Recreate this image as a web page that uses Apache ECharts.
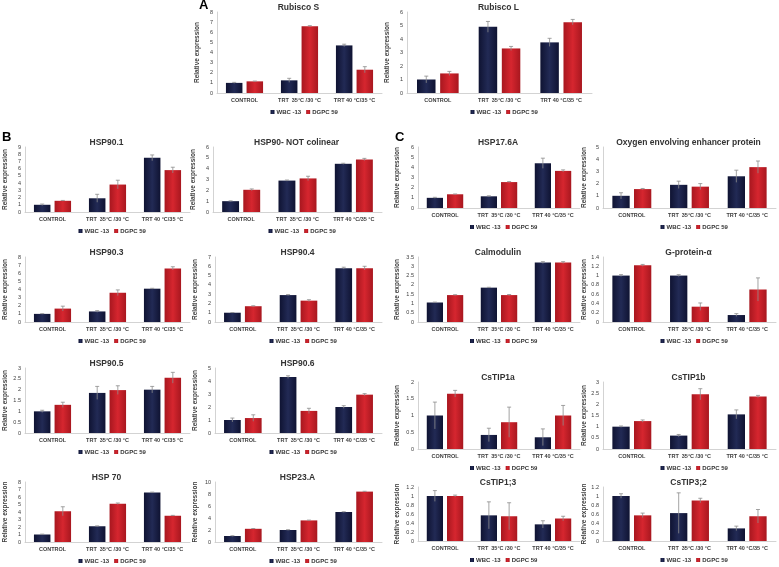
<!DOCTYPE html>
<html><head><meta charset="utf-8">
<script src="https://cdn.jsdelivr.net/npm/echarts@6/dist/echarts.min.js"></script>
<style>html,body{margin:0;padding:0;background:#fff}#c{width:779px;height:567px}</style>
</head><body><div id="c"></div>
<script>
// ---- data ----
const categories = ['CONTROL', 'TRT  35°C /30 °C', 'TRT 40 °C/35 °C'];
const seriesNames = ['WBC -13', 'DGPC 59'];

const rubiscoS_wbc = [1.0, 1.25, 4.7],  rubiscoS_wbcErr = [0.05, 0.2, 0.12];
const rubiscoS_dgpc = [1.15, 6.6, 2.3], rubiscoS_dgpcErr = [0.03, 0.05, 0.3];
const rubiscoL_wbc = [1.0, 4.9, 3.75],  rubiscoL_wbcErr = [0.25, 0.4, 0.3];
const rubiscoL_dgpc = [1.45, 3.3, 5.25], rubiscoL_dgpcErr = [0.15, 0.15, 0.2];
const hsp901_wbc = [1.0, 1.9, 7.5],  hsp901_wbcErr = [0.1, 0.55, 0.4];
const hsp901_dgpc = [1.55, 3.8, 5.8], hsp901_dgpcErr = [0.05, 0.6, 0.4];
const hsp90nc_wbc = [1.0, 2.9, 4.45], hsp90nc_wbcErr = [0.03, 0.05, 0.05];
const hsp90nc_dgpc = [2.05, 3.1, 4.85], hsp90nc_dgpcErr = [0.08, 0.2, 0.1];
const hsp903_wbc = [1.0, 1.3, 4.1],  hsp903_wbcErr = [0.03, 0.1, 0.05];
const hsp903_dgpc = [1.65, 3.6, 6.6], hsp903_dgpcErr = [0.3, 0.35, 0.2];
const hsp904_wbc = [1.0, 2.9, 5.8],  hsp904_wbcErr = [0.02, 0.05, 0.1];
const hsp904_dgpc = [1.7, 2.3, 5.8], hsp904_dgpcErr = [0.05, 0.1, 0.2];
const hsp905_wbc = [1.0, 1.85, 2.0],  hsp905_wbcErr = [0.05, 0.3, 0.15];
const hsp905_dgpc = [1.3, 1.98, 2.55], hsp905_dgpcErr = [0.12, 0.2, 0.25];
const hsp906_wbc = [1.0, 4.3, 2.0],  hsp906_wbcErr = [0.15, 0.1, 0.1];
const hsp906_dgpc = [1.15, 1.7, 2.95], hsp906_dgpcErr = [0.25, 0.2, 0.08];
const hsp70_wbc = [1.0, 2.1, 6.6],  hsp70_wbcErr = [0.05, 0.05, 0.05];
const hsp70_dgpc = [4.1, 5.1, 3.5], hsp70_dgpcErr = [0.6, 0.1, 0.05];
const hsp23_wbc = [1.0, 2.0, 5.0],  hsp23_wbcErr = [0.05, 0.05, 0.05];
const hsp23_dgpc = [2.2, 3.6, 8.4], hsp23_dgpcErr = [0.05, 0.05, 0.05];
const hsp176_wbc = [1.0, 1.15, 4.4],  hsp176_wbcErr = [0.05, 0.05, 0.5];
const hsp176_dgpc = [1.35, 2.55, 3.65], hsp176_dgpcErr = [0.03, 0.05, 0.1];
const oxy_wbc = [1.0, 1.9, 2.6],  oxy_wbcErr = [0.25, 0.3, 0.5];
const oxy_dgpc = [1.55, 1.75, 3.35], oxy_dgpcErr = [0.05, 0.25, 0.5];
const calm_wbc = [1.05, 1.85, 3.2], calm_wbcErr = [0.02, 0.02, 0.05];
const calm_dgpc = [1.45, 1.45, 3.2], calm_dgpcErr = [0.02, 0.03, 0.05];
const gprot_wbc = [1.0, 1.0, 0.15], gprot_wbcErr = [0.02, 0.02, 0.03];
const gprot_dgpc = [1.22, 0.33, 0.7], gprot_dgpcErr = [0.02, 0.08, 0.25];
const tip1a_wbc = [1.0, 0.42, 0.35], tip1a_wbcErr = [0.4, 0.2, 0.25];
const tip1a_dgpc = [1.65, 0.8, 1.0], tip1a_dgpcErr = [0.1, 0.45, 0.3];
const tip1b_wbc = [1.0, 0.6, 1.55], tip1b_wbcErr = [0.03, 0.05, 0.2];
const tip1b_dgpc = [1.25, 2.45, 2.35], tip1b_dgpcErr = [0.05, 0.25, 0.05];
const tip13_wbc = [1.0, 0.57, 0.37], tip13_wbcErr = [0.12, 0.3, 0.08];
const tip13_dgpc = [1.0, 0.55, 0.5], tip13_dgpcErr = [0.02, 0.3, 0.05];
const tip32_wbc = [1.0, 0.62, 0.28], tip32_wbcErr = [0.05, 0.45, 0.05];
const tip32_dgpc = [0.57, 0.9, 0.55], tip32_dgpcErr = [0.05, 0.05, 0.15];

const charts = [
  {title:'Rubisco S', w:rubiscoS_wbc, we:rubiscoS_wbcErr, d:rubiscoS_dgpc, de:rubiscoS_dgpcErr, max:8, step:1},
  {title:'Rubisco L', w:rubiscoL_wbc, we:rubiscoL_wbcErr, d:rubiscoL_dgpc, de:rubiscoL_dgpcErr, max:6, step:1},
  {title:'HSP90.1', w:hsp901_wbc, we:hsp901_wbcErr, d:hsp901_dgpc, de:hsp901_dgpcErr, max:9, step:1},
  {title:'HSP90- NOT colinear', w:hsp90nc_wbc, we:hsp90nc_wbcErr, d:hsp90nc_dgpc, de:hsp90nc_dgpcErr, max:6, step:1},
  {title:'HSP90.3', w:hsp903_wbc, we:hsp903_wbcErr, d:hsp903_dgpc, de:hsp903_dgpcErr, max:8, step:1},
  {title:'HSP90.4', w:hsp904_wbc, we:hsp904_wbcErr, d:hsp904_dgpc, de:hsp904_dgpcErr, max:7, step:1},
  {title:'HSP90.5', w:hsp905_wbc, we:hsp905_wbcErr, d:hsp905_dgpc, de:hsp905_dgpcErr, max:3, step:0.5},
  {title:'HSP90.6', w:hsp906_wbc, we:hsp906_wbcErr, d:hsp906_dgpc, de:hsp906_dgpcErr, max:5, step:1},
  {title:'HSP 70', w:hsp70_wbc, we:hsp70_wbcErr, d:hsp70_dgpc, de:hsp70_dgpcErr, max:8, step:1},
  {title:'HSP23.A', w:hsp23_wbc, we:hsp23_wbcErr, d:hsp23_dgpc, de:hsp23_dgpcErr, max:10, step:2},
  {title:'HSP17.6A', w:hsp176_wbc, we:hsp176_wbcErr, d:hsp176_dgpc, de:hsp176_dgpcErr, max:6, step:1},
  {title:'Oxygen envolving enhancer protein', w:oxy_wbc, we:oxy_wbcErr, d:oxy_dgpc, de:oxy_dgpcErr, max:5, step:1},
  {title:'Calmodulin', w:calm_wbc, we:calm_wbcErr, d:calm_dgpc, de:calm_dgpcErr, max:3.5, step:0.5},
  {title:'G-protein-α', w:gprot_wbc, we:gprot_wbcErr, d:gprot_dgpc, de:gprot_dgpcErr, max:1.4, step:0.2},
  {title:'CsTIP1a', w:tip1a_wbc, we:tip1a_wbcErr, d:tip1a_dgpc, de:tip1a_dgpcErr, max:2, step:0.5},
  {title:'CsTIP1b', w:tip1b_wbc, we:tip1b_wbcErr, d:tip1b_dgpc, de:tip1b_dgpcErr, max:3, step:0.5},
  {title:'CsTIP1;3', w:tip13_wbc, we:tip13_wbcErr, d:tip13_dgpc, de:tip13_dgpcErr, max:1.2, step:0.2},
  {title:'CsTIP3;2', w:tip32_wbc, we:tip32_wbcErr, d:tip32_dgpc, de:tip32_dgpcErr, max:1.2, step:0.2}
];

// ---- layout (plot boxes: left, right, top, bottom, y-name gap) ----
const boxes = [
  [217,382,12,93,16],[407,592,12,93,16],
  [25,190,147,212,16],[213,382,147,212,16],
  [25,190,257,322,16],[215,382,257,322,16],
  [25,190,368,433,16],[215,382,368,433,16],
  [25,190,482,542,16],[215,382,482,542,16],
  [418,580,147,208,17],[603,776,147,208,15],
  [418,580,257,322,17],[603,776,257,322,15],
  [418,580,382,449,17],[603,776,382,449,15],
  [418,580,487,541,17],[603,776,487,541,15]
];

const FONT = 'Liberation Sans, Arial, sans-serif';
const navy = {type:'linear',x:0,y:0,x2:1,y2:0,colorStops:[{offset:0,color:'#0f1332'},{offset:0.5,color:'#222a55'},{offset:1,color:'#0f1332'}]};
const red = {type:'linear',x:0,y:0,x2:1,y2:0,colorStops:[{offset:0,color:'#a8171f'},{offset:0.5,color:'#d6262f'},{offset:1,color:'#a8171f'}]};
const OFF = 0.1875;

function errRender(params, api) {
  const xi = api.value(0), y = api.value(1), e = api.value(2), off = api.value(3);
  const c = api.coord([xi, y]);
  const w = api.size([1, 0])[0];
  const cx = c[0] + off * w;
  const hi = api.coord([xi, y + e])[1];
  const lo = api.coord([xi, Math.max(0, y - e)])[1];
  const cap = 2;
  const st = {stroke:'#8c8c8c', lineWidth:0.8};
  return {type:'group', children:[
    {type:'line', shape:{x1:cx,y1:hi,x2:cx,y2:lo}, style:st},
    {type:'line', shape:{x1:cx-cap,y1:hi,x2:cx+cap,y2:hi}, style:st}
  ]};
}

const option = {
  animation:false,
  textStyle:{fontFamily:FONT},
  title:[], legend:[], grid:[], xAxis:[], yAxis:[], series:[],
  graphic:[
    {type:'text', left:199, top:-1, style:{text:'A', font:'bold 13px '+FONT, fill:'#000'}},
    {type:'text', left:2, top:131, style:{text:'B', font:'bold 13px '+FONT, fill:'#000'}},
    {type:'text', left:395, top:131, style:{text:'C', font:'bold 13px '+FONT, fill:'#000'}}
  ]
};

charts.forEach((ch, i) => {
  const [l, r, t, b, ng] = boxes[i];
  const cx = (l + r) / 2 - 6;
  option.grid.push({left:l, top:t, width:r-l, height:b-t});
  option.title.push({text:ch.title, left:cx, top:t-14, textAlign:'center',
    textStyle:{fontSize:8.5, fontWeight:'bold', color:'#333', fontFamily:FONT}});
  option.legend.push({data:seriesNames, left:cx-28, top:b+11, itemWidth:4, itemHeight:4, itemGap:5,
    icon:'rect', textStyle:{fontSize:6, fontWeight:'bold', color:'#333', fontFamily:FONT, padding:[0,0,0,-3]}, selectedMode:false});
  option.xAxis.push({type:'category', gridIndex:i, data:categories,
    axisLine:{lineStyle:{color:'#c8c8c8', width:0.8}}, axisTick:{show:false},
    axisLabel:{fontSize:5.5, fontWeight:'bold', color:'#404040', margin:4, interval:0, fontFamily:FONT}});
  option.yAxis.push({type:'value', gridIndex:i, min:0, max:ch.max, interval:ch.step,
    axisLine:{show:true, lineStyle:{color:'#c8c8c8', width:0.8}}, axisTick:{show:false}, splitLine:{show:false},
    axisLabel:{fontSize:5.5, color:'#404040', margin:4, fontFamily:FONT, showMaxLabel:true,
      formatter: v => String(Math.round(v * 100) / 100)},
    name:'Relative expression', nameLocation:'middle', nameGap:ng,
    nameTextStyle:{fontSize:6.5, fontWeight:'bold', color:'#404040', fontFamily:FONT}});
  option.series.push({type:'bar', name:seriesNames[0], xAxisIndex:i, yAxisIndex:i, data:ch.w,
    barWidth:'30%', barGap:'25%', itemStyle:{color:navy}});
  option.series.push({type:'bar', name:seriesNames[1], xAxisIndex:i, yAxisIndex:i, data:ch.d,
    barWidth:'30%', barGap:'25%', itemStyle:{color:red}});
  const errData = [];
  ch.w.forEach((v, k) => errData.push([k, v, ch.we[k], -OFF]));
  ch.d.forEach((v, k) => errData.push([k, v, ch.de[k], OFF]));
  option.series.push({type:'custom', xAxisIndex:i, yAxisIndex:i, data:errData, renderItem:errRender,
    encode:{x:0, y:1}, z:10, silent:true});
});

option.color = ['#141a3c', '#c41e26'];
const chart = echarts.init(document.getElementById('c'));
chart.setOption(option);
</script></body></html>
